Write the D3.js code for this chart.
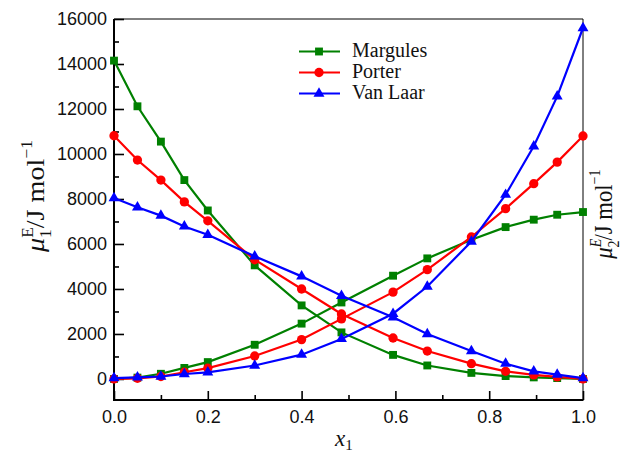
<!DOCTYPE html>
<html>
<head>
<meta charset="utf-8">
<script src="https://cdn.jsdelivr.net/npm/d3@7"></script>
<style>
  html, body { margin: 0; padding: 0; background: #fff; }
  svg { display: block; }
</style>
</head>
<body>
<svg id="chart" width="625" height="454"></svg>
<script>
// Mole fraction of component 1
const x1 = [0, 0.05, 0.1, 0.15, 0.2, 0.3, 0.4, 0.485, 0.595, 0.668, 0.762, 0.835, 0.895, 0.945, 1.0];

// Excess chemical potentials (J/mol) for each model
const margules1 = [14150, 12120, 10550, 8840, 7490, 5050, 3270, 2070, 1070, 600, 270, 130, 70, 40, 0];
const margules2 = [0, 60, 230, 490, 750, 1520, 2460, 3400, 4590, 5360, 6190, 6750, 7080, 7300, 7420];
const porter1   = [10810, 9730, 8840, 7870, 7030, 5300, 4000, 2890, 1820, 1240, 680, 340, 180, 90, 0];
const porter2   = [0, 30, 110, 300, 480, 1020, 1750, 2670, 3860, 4860, 6310, 7570, 8680, 9640, 10800];
const vanlaar1  = [8040, 7630, 7260, 6780, 6410, 5450, 4560, 3700, 2740, 2000, 1240, 680, 340, 190, 40];
const vanlaar2  = [40, 70, 110, 220, 290, 600, 1080, 1780, 2900, 4110, 6110, 8190, 10340, 12560, 15600];

const seriesNames = ["Margules", "Porter", "Van Laar"];
const seriesColors = ["#008000", "#ff0000", "#0000ff"];
const seriesShapes = [d3.symbolSquare, d3.symbolCircle, d3.symbolTriangle];
const seriesSizes = [62, 68, 52];
const seriesData = [[margules1, margules2], [porter1, porter2], [vanlaar1, vanlaar2]];

const xTicks = [0, 0.2, 0.4, 0.6, 0.8, 1.0];
const xMinorTicks = [0.1, 0.3, 0.5, 0.7, 0.9];
const yTicks = [0, 2000, 4000, 6000, 8000, 10000, 12000, 14000, 16000];
const yMinorTicks = [1000, 3000, 5000, 7000, 9000, 11000, 13000, 15000];

const svg = d3.select("#chart");
const plotL = 114, plotR = 583, plotT = 19, plotB = 400;

const x = d3.scaleLinear().domain([0, 1]).range([plotL, plotR]);
const y = d3.scaleLinear().domain([-935, 16000]).range([plotB, plotT]);

// Frame: thin top and right edges
svg.append("path")
  .attr("d", `M${plotL},${plotT}H${plotR}V${plotB}`)
  .attr("fill", "none").attr("stroke", "#000").attr("stroke-width", 1);

// Bottom axis with inward ticks
const gx = svg.append("g").attr("transform", `translate(0,${plotB})`);
gx.call(d3.axisBottom(x).tickValues(xMinorTicks).tickSize(-5).tickFormat(""));
gx.append("g").call(d3.axisBottom(x).tickValues(xTicks).tickSize(-9).tickPadding(14).tickFormat(d3.format(".1f")));
gx.selectAll(".domain").remove();
gx.append("line").attr("x1", plotL - 1).attr("x2", plotR + 0.5).attr("stroke", "#000").attr("stroke-width", 2);

// Left axis with inward ticks
const gy = svg.append("g").attr("transform", `translate(${plotL},0)`);
gy.call(d3.axisLeft(y).tickValues(yMinorTicks).tickSize(-5).tickFormat(""));
gy.append("g").call(d3.axisLeft(y).tickValues(yTicks).tickSize(-10).tickPadding(7).tickFormat(d3.format("d")));
gy.selectAll(".domain").remove();
gy.append("line").attr("y1", plotT).attr("y2", plotB + 1).attr("stroke", "#000").attr("stroke-width", 2);

svg.selectAll(".tick line").attr("stroke", "#000").attr("stroke-width", 1.6);
svg.selectAll(".tick text")
  .attr("font-family", "'Liberation Sans', Arial, sans-serif")
  .attr("font-size", 18).attr("fill", "#111");
gx.selectAll(".tick text").attr("dy", "0.71em").attr("y", 10);

// Curves and markers
const line = d3.line().x(d => x(d[0])).y(d => y(d[1]));
seriesData.forEach((pair, i) => {
  pair.forEach(vals => {
    const pts = x1.map((v, k) => [v, vals[k]]);
    svg.append("path").datum(pts)
      .attr("d", line)
      .attr("fill", "none")
      .attr("stroke", seriesColors[i])
      .attr("stroke-width", 2.2);
    svg.append("g").selectAll("path").data(pts).join("path")
      .attr("transform", d => `translate(${x(d[0])},${y(d[1])})`)
      .attr("d", d3.symbol(seriesShapes[i], seriesSizes[i]))
      .attr("fill", seriesColors[i]);
  });
});

// Legend
const legend = svg.append("g");
seriesNames.forEach((name, i) => {
  const ly = 51.5 + i * 21;
  legend.append("line")
    .attr("x1", 299).attr("x2", 340).attr("y1", ly).attr("y2", ly)
    .attr("stroke", seriesColors[i]).attr("stroke-width", 2.2);
  legend.append("path")
    .attr("transform", `translate(319,${ly})`)
    .attr("d", d3.symbol(seriesShapes[i], seriesSizes[i]))
    .attr("fill", seriesColors[i]);
  legend.append("text")
    .attr("x", 352).attr("y", ly + 5.5)
    .attr("font-family", "'Liberation Serif', 'Times New Roman', serif")
    .attr("font-size", 20).attr("fill", "#111")
    .text(name);
});

// Axis titles
const serif = "'Liberation Serif', 'Times New Roman', serif";

const xl = svg.append("text")
  .attr("x", 335).attr("y", 446)
  .attr("font-family", serif).attr("font-size", 23).attr("fill", "#111");
xl.append("tspan").attr("font-style", "italic").text("x");
xl.append("tspan").attr("font-size", 15).attr("dy", 4).text("1");

// Vertical title: baseline at bx, centred on cy, squeezed to the given length
function verticalTitle(bx, cy, len, sub, italicE, gap) {
  const g = svg.append("g");
  const t = g.append("text")
    .attr("font-family", serif).attr("font-size", 26).attr("fill", "#111");
  t.append("tspan").attr("font-style", "italic").text("μ");
  t.append("tspan").attr("font-size", 16).attr("dy", -11)
    .attr("font-style", italicE ? "italic" : "normal").text("E");
  t.append("tspan").attr("font-size", 16).attr("dx", -10).attr("dy", 18).text(sub);
  t.append("tspan").attr("dy", -7).attr("dx", gap).text("/J mol");
  t.append("tspan").attr("font-size", 16).attr("dy", -12).text("−1");
  const b = t.node().getBBox();
  const s = len / b.width;
  g.attr("transform", `translate(${bx},${cy}) rotate(-90) scale(${s},1) translate(${-b.x - b.width / 2},0)`);
}
verticalTitle(44, 196.5, 113, "1", false, 1);
verticalTitle(612, 214.5, 90, "2", true, 0);
</script>
</body>
</html>
